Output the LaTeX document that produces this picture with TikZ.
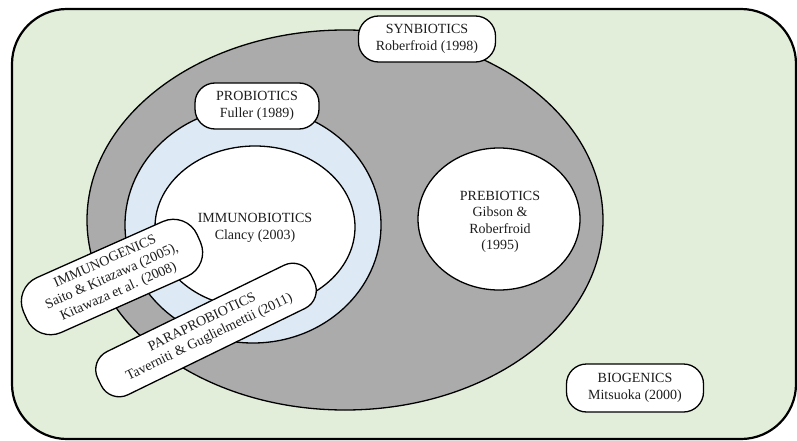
\documentclass[tikz,border=0pt]{standalone}
\usepackage{fontspec}
\setmainfont{Liberation Serif}
\definecolor{bggreen}{RGB}{226,238,218}
\definecolor{ringgray}{RGB}{171,171,171}
\definecolor{ringblue}{RGB}{221,234,246}
\definecolor{txt}{RGB}{30,30,30}
\begin{document}
\begin{tikzpicture}[x=1pt,y=-1pt,
  font=\fontsize{14}{16.5}\selectfont, text=txt,
  labelbox/.style={draw=black, line width=1.3pt, fill=white, rounded corners=20pt,
    align=center, inner sep=2pt, minimum height=46pt},
  area/.style={draw=black, line width=1.3pt},
  plain/.style={align=center, inner sep=0pt}]
\useasboundingbox (0,0) rectangle (797,441);
% background
\draw[line width=2.2pt, fill=bggreen, rounded corners=55pt] (12,9) rectangle (796,439);
% synbiotics region
\draw[area, fill=ringgray] (345,220) ellipse [x radius=258pt, y radius=190pt];
% probiotics ring
\draw[area, fill=ringblue] (253,225) ellipse [x radius=128pt, y radius=118pt];
% immunobiotics
\draw[area, fill=white] (255,227) ellipse [x radius=100pt, y radius=81pt];
% prebiotics
\draw[area, fill=white] (499,219) ellipse [x radius=81pt, y radius=71pt];
% texts
\node[plain] (immuno) at (255,228) {IMMUNOBIOTICS\\Clancy (2003)};
\node[plain] (pre) at (500,222) {PREBIOTICS\\Gibson \&\\Roberfroid\\(1995)};
% label boxes
\node[labelbox, minimum width=137pt] (syn) at (427,39) {SYNBIOTICS\\Roberfroid (1998)};
\node[labelbox, minimum width=124pt] (pro) at (257,106) {PROBIOTICS\\Fuller (1989)};
\node[labelbox, minimum width=137pt, minimum height=48pt] (bio) at (635,388) {BIOGENICS\\Mitsuoka (2000)};
\node[labelbox, minimum width=190pt, minimum height=60pt, rounded corners=26pt, rotate=24] (gen) at (112,277)
  {IMMUNOGENICS\\Saito \& Kitazawa (2005),\\Kitawaza et al. (2008)};
\node[labelbox, minimum width=237pt, minimum height=48pt, rotate=26] (para) at (206,330)
  {PARAPROBIOTICS\\Taverniti \& Guglielmettii (2011)};
\end{tikzpicture}
\end{document}
